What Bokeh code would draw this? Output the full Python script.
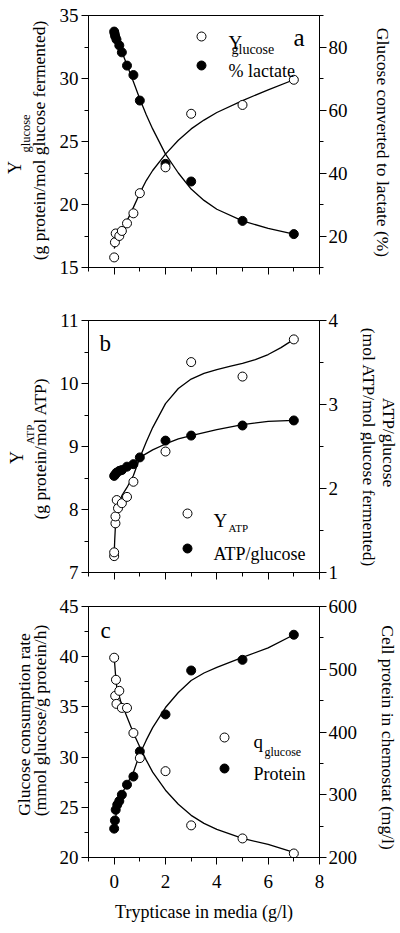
import math
from bokeh.plotting import figure
from bokeh.models import Range1d, LinearAxis, SingleIntervalTicker, Label, CustomJSTickFormatter
from bokeh.layouts import column, row
from bokeh.embed import file_html
from bokeh.resources import INLINE

FONT = "Liberation Serif"

# ---------------- data ----------------
X_RANGE = (-1, 8)   # Trypticase in media (g/l)

# Panel a
a_yglu_x = [0, 0.03, 0.06, 0.2, 0.3, 0.5, 0.75, 1, 2, 3, 5, 7]
a_yglu_y = [15.8, 17.0, 17.7, 17.5, 17.9, 18.5, 19.3, 20.9, 22.95, 27.2, 27.9, 29.9]
a_lact_x = [0, 0.02, 0.04, 0.09, 0.2, 0.3, 0.5, 0.75, 1, 2, 3, 5, 7]
a_lact_y = [84.9, 84.2, 83.4, 82.4, 80.5, 78.3, 74.1, 71.1, 63.0, 42.9, 37.3, 24.8, 20.6]
a_yglu_fit_x = [0, 0.1, 0.25, 0.5, 0.75, 1, 1.25, 1.5, 2, 2.5, 3, 3.5, 4, 5, 6, 7]
a_yglu_fit_y = [16.5, 17.0, 17.65, 18.7, 19.77, 20.9, 21.9, 22.7, 24.0, 25.1, 26.0, 26.7,
                27.3, 28.25, 29.1, 29.9]
a_lact_fit_x = [0, 0.1, 0.25, 0.5, 0.75, 1, 1.25, 1.5, 2, 2.5, 3, 3.5, 4, 5, 6, 7]
a_lact_fit_y = [85.3, 83.0, 79.5, 74.3, 69.0, 63.5, 58.5, 54.0, 46.0, 40.0, 34.9, 31.3,
                28.5, 24.8, 22.4, 20.6]

# Panel b
b_yatp_x = [0, 0, 0.05, 0.05, 0.1, 0.15, 0.3, 0.5, 0.75, 2, 3, 5, 7]
b_yatp_y = [7.26, 7.32, 7.78, 7.89, 8.15, 8.02, 8.10, 8.20, 8.44, 8.92, 10.34, 10.11, 10.70]
b_atpg_x = [0, 0.05, 0.1, 0.2, 0.3, 0.5, 0.75, 1, 2, 3, 5, 7]
b_atpg_y = [2.15, 2.17, 2.19, 2.21, 2.22, 2.26, 2.29, 2.37, 2.57, 2.63, 2.75, 2.81]
b_yatp_fit_x = [0, 0.02, 0.05, 0.1, 0.2, 0.3, 0.5, 0.75, 1, 1.25, 1.5, 2, 2.5, 3, 3.5,
                4, 4.5, 5, 5.5, 6, 6.5, 7]
b_yatp_fit_y = [7.28, 7.5, 7.75, 7.95, 8.12, 8.22, 8.35, 8.54, 8.82, 9.07, 9.30, 9.68,
                9.92, 10.07, 10.16, 10.22, 10.27, 10.32, 10.38, 10.46, 10.57, 10.70]
b_atpg_fit_x = [0, 0.25, 0.5, 0.75, 1, 1.5, 2, 2.5, 3, 4, 5, 6, 7]
b_atpg_fit_y = [2.15, 2.20, 2.25, 2.30, 2.37, 2.46, 2.53, 2.59, 2.63, 2.70, 2.76, 2.80, 2.81]

# Panel c
c_q_x = [0, 0.07, 0.04, 0.09, 0.2, 0.3, 0.5, 0.75, 1, 2, 3, 5, 7]
c_q_y = [39.9, 37.7, 36.1, 35.3, 36.6, 34.9, 34.9, 32.4, 29.9, 28.6, 23.2, 21.9, 20.4]
c_prot_x = [0, 0.03, 0.06, 0.12, 0.2, 0.3, 0.5, 0.75, 1, 2, 3, 5, 7]
c_prot_y = [246, 259, 276, 284, 290, 300, 316, 329, 369, 428, 498, 515, 555]
c_q_fit_x = [0, 0.05, 0.1, 0.25, 0.5, 0.75, 1, 1.25, 1.5, 2, 2.5, 3, 3.5, 4, 5, 6, 7]
c_q_fit_y = [40.0, 38.3, 37.0, 35.6, 34.0, 32.4, 31.0, 29.7, 28.5, 26.7, 25.3, 24.2, 23.4,
             22.8, 21.9, 21.3, 20.5]
c_prot_fit_x = [0, 0.05, 0.1, 0.25, 0.5, 0.75, 1, 1.25, 1.5, 2, 2.5, 3, 3.5, 4, 5, 6, 7]
c_prot_fit_y = [245, 262, 275, 298, 317, 336, 365, 387, 407, 439, 463, 482, 494, 503,
                519, 534, 555]

x_label = "Trypticase in media (g/l)"

# ---------------- layout (page pixels) ----------------
TOTAL_H = 927
SIDE_L = 56          # left label strip width
SIDE_R = 44          # right label strip width
B_LEFT, FW, B_RIGHT = 31, 231, 38
FRAME_LEFT_PAGE = SIDE_L + B_LEFT


def make_panel(yl, yr, top, fh, bottom, l_int, r_int, show_x, top_page):
    p = figure(frame_width=FW, frame_height=fh,
               x_range=Range1d(*X_RANGE), y_range=Range1d(*yl),
               min_border_left=B_LEFT, min_border_right=B_RIGHT,
               min_border_top=top, min_border_bottom=bottom,
               output_backend="svg", toolbar_location=None,
               background_fill_color="white", border_fill_color="white")
    p.grid.visible = False
    p.outline_line_color = "black"
    p.outline_line_width = 1
    p.extra_y_ranges = {"r": Range1d(*yr)}
    p.add_layout(LinearAxis(y_range_name="r"), "right")
    p.yaxis[0].ticker = SingleIntervalTicker(interval=l_int, num_minor_ticks=2)
    p.yaxis[1].ticker = SingleIntervalTicker(interval=r_int, num_minor_ticks=2)
    p.xaxis.ticker = SingleIntervalTicker(interval=2, num_minor_ticks=2)
    for ax in list(p.yaxis) + list(p.xaxis):
        ax.axis_line_color = "black"
        ax.axis_line_width = 1
        ax.major_tick_out = 7
        ax.major_tick_in = 0
        ax.minor_tick_out = 4
        ax.minor_tick_in = 0
        ax.major_tick_line_color = "black"
        ax.minor_tick_line_color = "black"
        ax.major_label_text_font = FONT
        ax.major_label_text_font_size = "19px"
        ax.major_label_text_color = "black"
        ax.major_label_standoff = 3
    p.yaxis[1].major_label_standoff = 2
    if show_x:
        p.xaxis.major_label_standoff = 10
        p.xaxis.axis_label = x_label
        p.xaxis.axis_label_text_font = FONT
        p.xaxis.axis_label_text_font_size = "18px"
        p.xaxis.axis_label_text_font_style = "normal"
        p.xaxis.axis_label_text_color = "black"
        p.xaxis.axis_label_standoff = 11
    else:
        p.xaxis.formatter = CustomJSTickFormatter(code="return ''")
        p.xaxis.major_label_text_font_size = "8px"
        p.xaxis.major_label_standoff = 0
    p._geom = (yl, fh, top_page)
    return p


def side_strip(x0, width):
    s = figure(width=width, height=TOTAL_H, x_range=Range1d(x0, x0 + width),
               y_range=Range1d(TOTAL_H, 0), x_axis_type=None, y_axis_type=None,
               min_border=0, min_border_left=0, min_border_right=0,
               min_border_top=0, min_border_bottom=0,
               output_backend="svg", toolbar_location=None,
               background_fill_color="white", border_fill_color="white")
    s.grid.visible = False
    s.outline_line_color = None
    return s


def dx(px):
    return X_RANGE[0] + (px - FRAME_LEFT_PAGE) * (X_RANGE[1] - X_RANGE[0]) / FW


def dy(p, py):
    yl, fh, top_page = p._geom
    return yl[1] - (py - top_page) * (yl[1] - yl[0]) / fh


def text(p, px, py, s, size, angle=0.0, align="center", baseline="middle", page=False):
    x, y = (px, py) if page else (dx(px), dy(p, py))
    p.add_layout(Label(x=x, y=y, text=s, text_font=FONT,
                       text_font_size=size, angle=angle, text_align=align,
                       text_baseline=baseline, text_color="black"))


def key(p, px, py, filled):
    p.scatter(x=[dx(px)], y=[dy(p, py)], marker="circle", size=9,
              line_color="black", line_width=1,
              fill_color="black" if filled else "white")


def series(p, x, y, fx, fy, filled, rng=None):
    kw = {"y_range_name": rng} if rng else {}
    p.line(fx, fy, line_color="black", line_width=1.3, line_join="round", **kw)
    return (x, y, filled, kw)


def points(p, spec):
    x, y, filled, kw = spec
    p.scatter(x, y, marker="circle", size=9, line_color="black", line_width=1,
              fill_color="black" if filled else "white", **kw)


UP, DOWN = math.pi / 2, -math.pi / 2

# Panel a
pa = make_panel((15, 35), (10, 90), 15, 252, 40, 5, 20, False, 15)
s1 = series(pa, a_yglu_x, a_yglu_y, a_yglu_fit_x, a_yglu_fit_y, False)
s2 = series(pa, a_lact_x, a_lact_y, a_lact_fit_x, a_lact_fit_y, True, "r")
points(pa, s2)
points(pa, s1)
key(pa, 200, 36, False)
key(pa, 200, 65, True)
text(pa, 227, 42, "Y", "19px", align="left", baseline="alphabetic")
text(pa, 230, 49, "glucose", "14px", align="left", baseline="alphabetic")
text(pa, 227, 70, "% lactate", "18px", align="left", baseline="alphabetic")
text(pa, 292, 37, "a", "25px", align="left", baseline="alphabetic")

# Panel b
pb = make_panel((7, 11), (1, 4), 13, 252, 24, 1, 1, False, 320)
s3 = series(pb, b_yatp_x, b_yatp_y, b_yatp_fit_x, b_yatp_fit_y, False)
s4 = series(pb, b_atpg_x, b_atpg_y, b_atpg_fit_x, b_atpg_fit_y, True, "r")
points(pb, s3)
points(pb, s4)
key(pb, 186, 513, False)
key(pb, 186, 548, True)
text(pb, 212, 520, "Y", "19px", align="left", baseline="alphabetic")
text(pb, 227, 527, "ATP", "11px", align="left", baseline="alphabetic")
text(pb, 212, 553, "ATP/glucose", "18px", align="left", baseline="alphabetic")
text(pb, 98, 343, "b", "23px", align="left", baseline="alphabetic")

# Panel c
pc = make_panel((20, 45), (200, 600), 10, 251, 70, 5, 100, True, 606)
s5 = series(pc, c_q_x, c_q_y, c_q_fit_x, c_q_fit_y, False)
s6 = series(pc, c_prot_x, c_prot_y, c_prot_fit_x, c_prot_fit_y, True, "r")
points(pc, s6)
points(pc, s5)
key(pc, 223, 737, False)
key(pc, 223, 768, True)
text(pc, 252, 741, "q", "19px", align="left", baseline="alphabetic")
text(pc, 263, 751, "glucose", "12px", align="left", baseline="alphabetic")
text(pc, 252, 773, "Protein", "18px", align="left", baseline="alphabetic")
text(pc, 99, 630, "c", "23px", align="left", baseline="alphabetic")

# Left label strip (page coordinates)
sl = side_strip(0, SIDE_L)
text(sl, 14, 167, "Y", "18px", angle=UP, page=True)
text(sl, 25, 133, "glucose", "12.5px", angle=UP, page=True)
text(sl, 38.5, 140, "(g protein/mol glucose fermented)", "17.5px", angle=UP, page=True)
text(sl, 16.5, 457, "Y", "18px", angle=UP, page=True)
text(sl, 29, 434, "ATP", "11px", angle=UP, page=True)
text(sl, 39, 448, "(g protein/mol ATP)", "17.5px", angle=UP, page=True)
text(sl, 23, 724, "Glucose consumption rate", "17.5px", angle=UP, page=True)
text(sl, 39, 720, "(mmol glucose/g protein/h)", "17.5px", angle=UP, page=True)

# Right label strip (page coordinates)
x0r = SIDE_L + B_LEFT + FW + B_RIGHT
sr = side_strip(x0r, SIDE_R)
text(sr, 378, 142, "Glucose converted to lactate (%)", "17.5px", angle=DOWN, page=True)
text(sr, 384, 442, "ATP/glucose", "17.5px", angle=DOWN, page=True)
text(sr, 364, 447, "(mol ATP/mol glucose fermented)", "17.5px", angle=DOWN, page=True)
text(sr, 383, 737, "Cell protein in chemostat (mg/l)", "17.5px", angle=DOWN, page=True)

layout = row(sl, column(pa, pb, pc), sr)
open("out.html", "w").write(file_html(layout, INLINE))
